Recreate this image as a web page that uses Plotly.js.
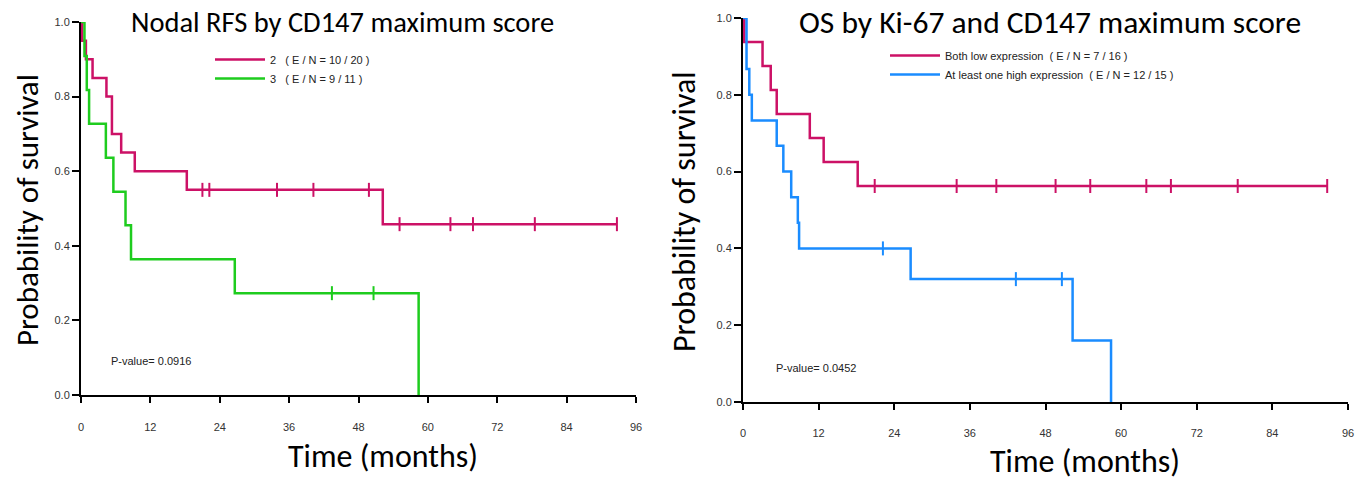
<!DOCTYPE html>
<html><head><meta charset="utf-8">
<script src="https://cdn.plot.ly/plotly-3.0.1.min.js"></script>
<style>html,body{margin:0;padding:0;background:#fff}#chart{width:1368px;height:481px}</style>
</head><body><div id="chart"></div>
<script>
// ---- shared ticks ----
const tickMonths = [0, 12, 24, 36, 48, 60, 72, 84, 96];
const tickProb = [0, 0.2, 0.4, 0.6, 0.8, 1.0];

// ---- Left panel: Nodal RFS by CD147 maximum score ----
const rfsNames = ["2   ( E / N = 10 / 20 )", "3   ( E / N = 9 / 11 )"];
const rfs2Time = [0, 0.2, 0.85, 2.0, 4.4, 5.35, 6.95, 9.3, 18.3, 52.2, 92.7];
const rfs2Surv = [1, 0.95, 0.90, 0.85, 0.80, 0.70, 0.65, 0.60, 0.55, 0.458, 0.458];
const rfs2CensTime = [21.0, 22.2, 33.9, 40.2, 49.8, 55.1, 63.9, 67.8, 78.5, 92.7];
const rfs2CensSurv = [0.55, 0.55, 0.55, 0.55, 0.55, 0.458, 0.458, 0.458, 0.458, 0.458];
const rfs3Time = [0, 0.6, 1.0, 1.4, 4.3, 5.6, 7.7, 8.65, 26.6, 58.4];
const rfs3Surv = [1, 0.909, 0.818, 0.727, 0.636, 0.545, 0.455, 0.364, 0.273, 0];
const rfs3CensTime = [43.4, 50.6];
const rfs3CensSurv = [0.273, 0.273];

// ---- Right panel: OS by Ki-67 and CD147 maximum score ----
const osNames = ["Both low expression  ( E / N = 7 / 16 )", "At least one high expression  ( E / N = 12 / 15 )"];
const osLowTime = [0, 0.2, 3.1, 4.4, 5.35, 10.6, 12.8, 18.2, 92.7];
const osLowSurv = [1, 0.9375, 0.875, 0.8125, 0.75, 0.6875, 0.625, 0.5625, 0.5625];
const osLowCensTime = [20.9, 33.9, 40.2, 49.6, 55.1, 64.0, 67.9, 78.5, 92.7];
const osLowCensSurv = [0.5625, 0.5625, 0.5625, 0.5625, 0.5625, 0.5625, 0.5625, 0.5625, 0.5625];
const osHighTime = [0, 0.56, 1.0, 1.4, 5.35, 6.4, 7.65, 8.7, 8.9, 26.6, 52.3, 58.4];
const osHighSurv = [1, 0.867, 0.8, 0.733, 0.667, 0.6, 0.533, 0.467, 0.4, 0.32, 0.16, 0];
const osHighCensTime = [22.2, 43.3, 50.6];
const osHighCensSurv = [0.4, 0.32, 0.32];

const pValues = ["P-value= 0.0916", "P-value= 0.0452"];
const titles = ["Nodal RFS by CD147 maximum score", "OS by Ki-67 and CD147 maximum score"];

const MAG = "#CC1166", GRN = "#1ECC1E", BLU = "#1A8CFF";
const fam = "Carlito, Lato, 'Open Sans', sans-serif";
const tickFont = {family: "Liberation Sans, Arial, sans-serif", size: 11, color: "#333"};
const smallFont = {family: "Liberation Sans, Arial, sans-serif", size: 11, color: "#222"};
const f = s => ({family: fam, size: s, color: "#000"});

function stepTrace(x, y, color, name, xa, ya, legend) {
  return {x: x, y: y, type: "scatter", mode: "lines", line: {shape: "hv", color: color, width: 2.5},
    name: name, xaxis: xa, yaxis: ya, legend: legend, hoverinfo: "skip"};
}
function censTrace(x, y, color, xa, ya) {
  return {x: x, y: y, type: "scatter", mode: "markers", showlegend: false, xaxis: xa, yaxis: ya,
    marker: {symbol: "line-ns", size: 10, line: {color: color, width: 2}}, cliponaxis: false, hoverinfo: "skip"};
}

const data = [
  stepTrace(rfs2Time, rfs2Surv, MAG, rfsNames[0], "x", "y", "legend"),
  stepTrace(rfs3Time, rfs3Surv, GRN, rfsNames[1], "x", "y", "legend"),
  censTrace(rfs2CensTime, rfs2CensSurv, MAG, "x", "y"),
  censTrace(rfs3CensTime, rfs3CensSurv, GRN, "x", "y"),
  stepTrace(osLowTime, osLowSurv, MAG, osNames[0], "x2", "y2", "legend2"),
  stepTrace(osHighTime, osHighSurv, BLU, osNames[1], "x2", "y2", "legend2"),
  censTrace(osLowCensTime, osLowCensSurv, MAG, "x2", "y2"),
  censTrace(osHighCensTime, osHighCensSurv, BLU, "x2", "y2")
];

function xAxis(domain, anchor, standoff) {
  return {domain: domain, anchor: anchor, range: [0, 96], tickvals: tickMonths, ticktext: tickMonths.map(String),
    showline: true, linecolor: "#000", linewidth: 2, ticks: "outside", ticklen: 6, tickwidth: 2, tickcolor: "#000",
    showgrid: false, zeroline: false, tickfont: tickFont, ticklabelstandoff: standoff, fixedrange: true};
}
function yAxis(domain, anchor) {
  return {domain: domain, anchor: anchor, range: [0, 1], tickvals: tickProb, ticktext: tickProb.map(v => v.toFixed(1)),
    showline: true, linecolor: "#000", linewidth: 2, ticks: "outside", ticklen: 7, tickwidth: 2, tickcolor: "#000",
    showgrid: false, zeroline: false, tickfont: tickFont, fixedrange: true};
}

const W = 1368, H = 481;
const px = v => v / W, py = v => (H - v) / H;

const layout = {
  width: W, height: H, margin: {l: 0, r: 0, t: 0, b: 0},
  paper_bgcolor: "#fff", plot_bgcolor: "rgba(0,0,0,0)",
  xaxis: xAxis([px(81), px(636)], "y", 15),
  yaxis: yAxis([py(395), py(22)], "x"),
  xaxis2: xAxis([px(743), px(1348)], "y2", 14),
  yaxis2: yAxis([py(402), py(18)], "x2"),
  legend: {x: px(210), y: py(45), xanchor: "left", yanchor: "top", font: smallFont, bgcolor: "rgba(0,0,0,0)",
    itemwidth: 50, tracegroupgap: 0},
  legend2: {x: px(885), y: py(41), xanchor: "left", yanchor: "top", font: smallFont, bgcolor: "rgba(0,0,0,0)",
    itemwidth: 50, tracegroupgap: 0},
  annotations: [
    {text: titles[0], x: px(342), y: py(22), xref: "paper", yref: "paper", showarrow: false, font: f(28.5), xanchor: "center", yanchor: "middle"},
    {text: titles[1], x: px(1050), y: py(22), xref: "paper", yref: "paper", showarrow: false, font: f(31.5), xanchor: "center", yanchor: "middle"},
    {text: "Time (months)", x: px(383), y: py(456), xref: "paper", yref: "paper", showarrow: false, font: f(32), xanchor: "center", yanchor: "middle"},
    {text: "Time (months)", x: px(1085), y: py(461), xref: "paper", yref: "paper", showarrow: false, font: f(32), xanchor: "center", yanchor: "middle"},
    {text: "Probability of survival", x: px(27), y: py(210), xref: "paper", yref: "paper", showarrow: false, font: f(31), textangle: -90, xanchor: "center", yanchor: "middle"},
    {text: "Probability of survival", x: px(684), y: py(212), xref: "paper", yref: "paper", showarrow: false, font: f(32), textangle: -90, xanchor: "center", yanchor: "middle"},
    {text: pValues[0], x: px(109), y: py(361), xref: "paper", yref: "paper", showarrow: false, font: smallFont, xanchor: "left", yanchor: "middle"},
    {text: pValues[1], x: px(774), y: py(368), xref: "paper", yref: "paper", showarrow: false, font: smallFont, xanchor: "left", yanchor: "middle"}
  ]
};

Plotly.newPlot("chart", data, layout, {displayModeBar: false, staticPlot: true});
</script>
</body></html>
